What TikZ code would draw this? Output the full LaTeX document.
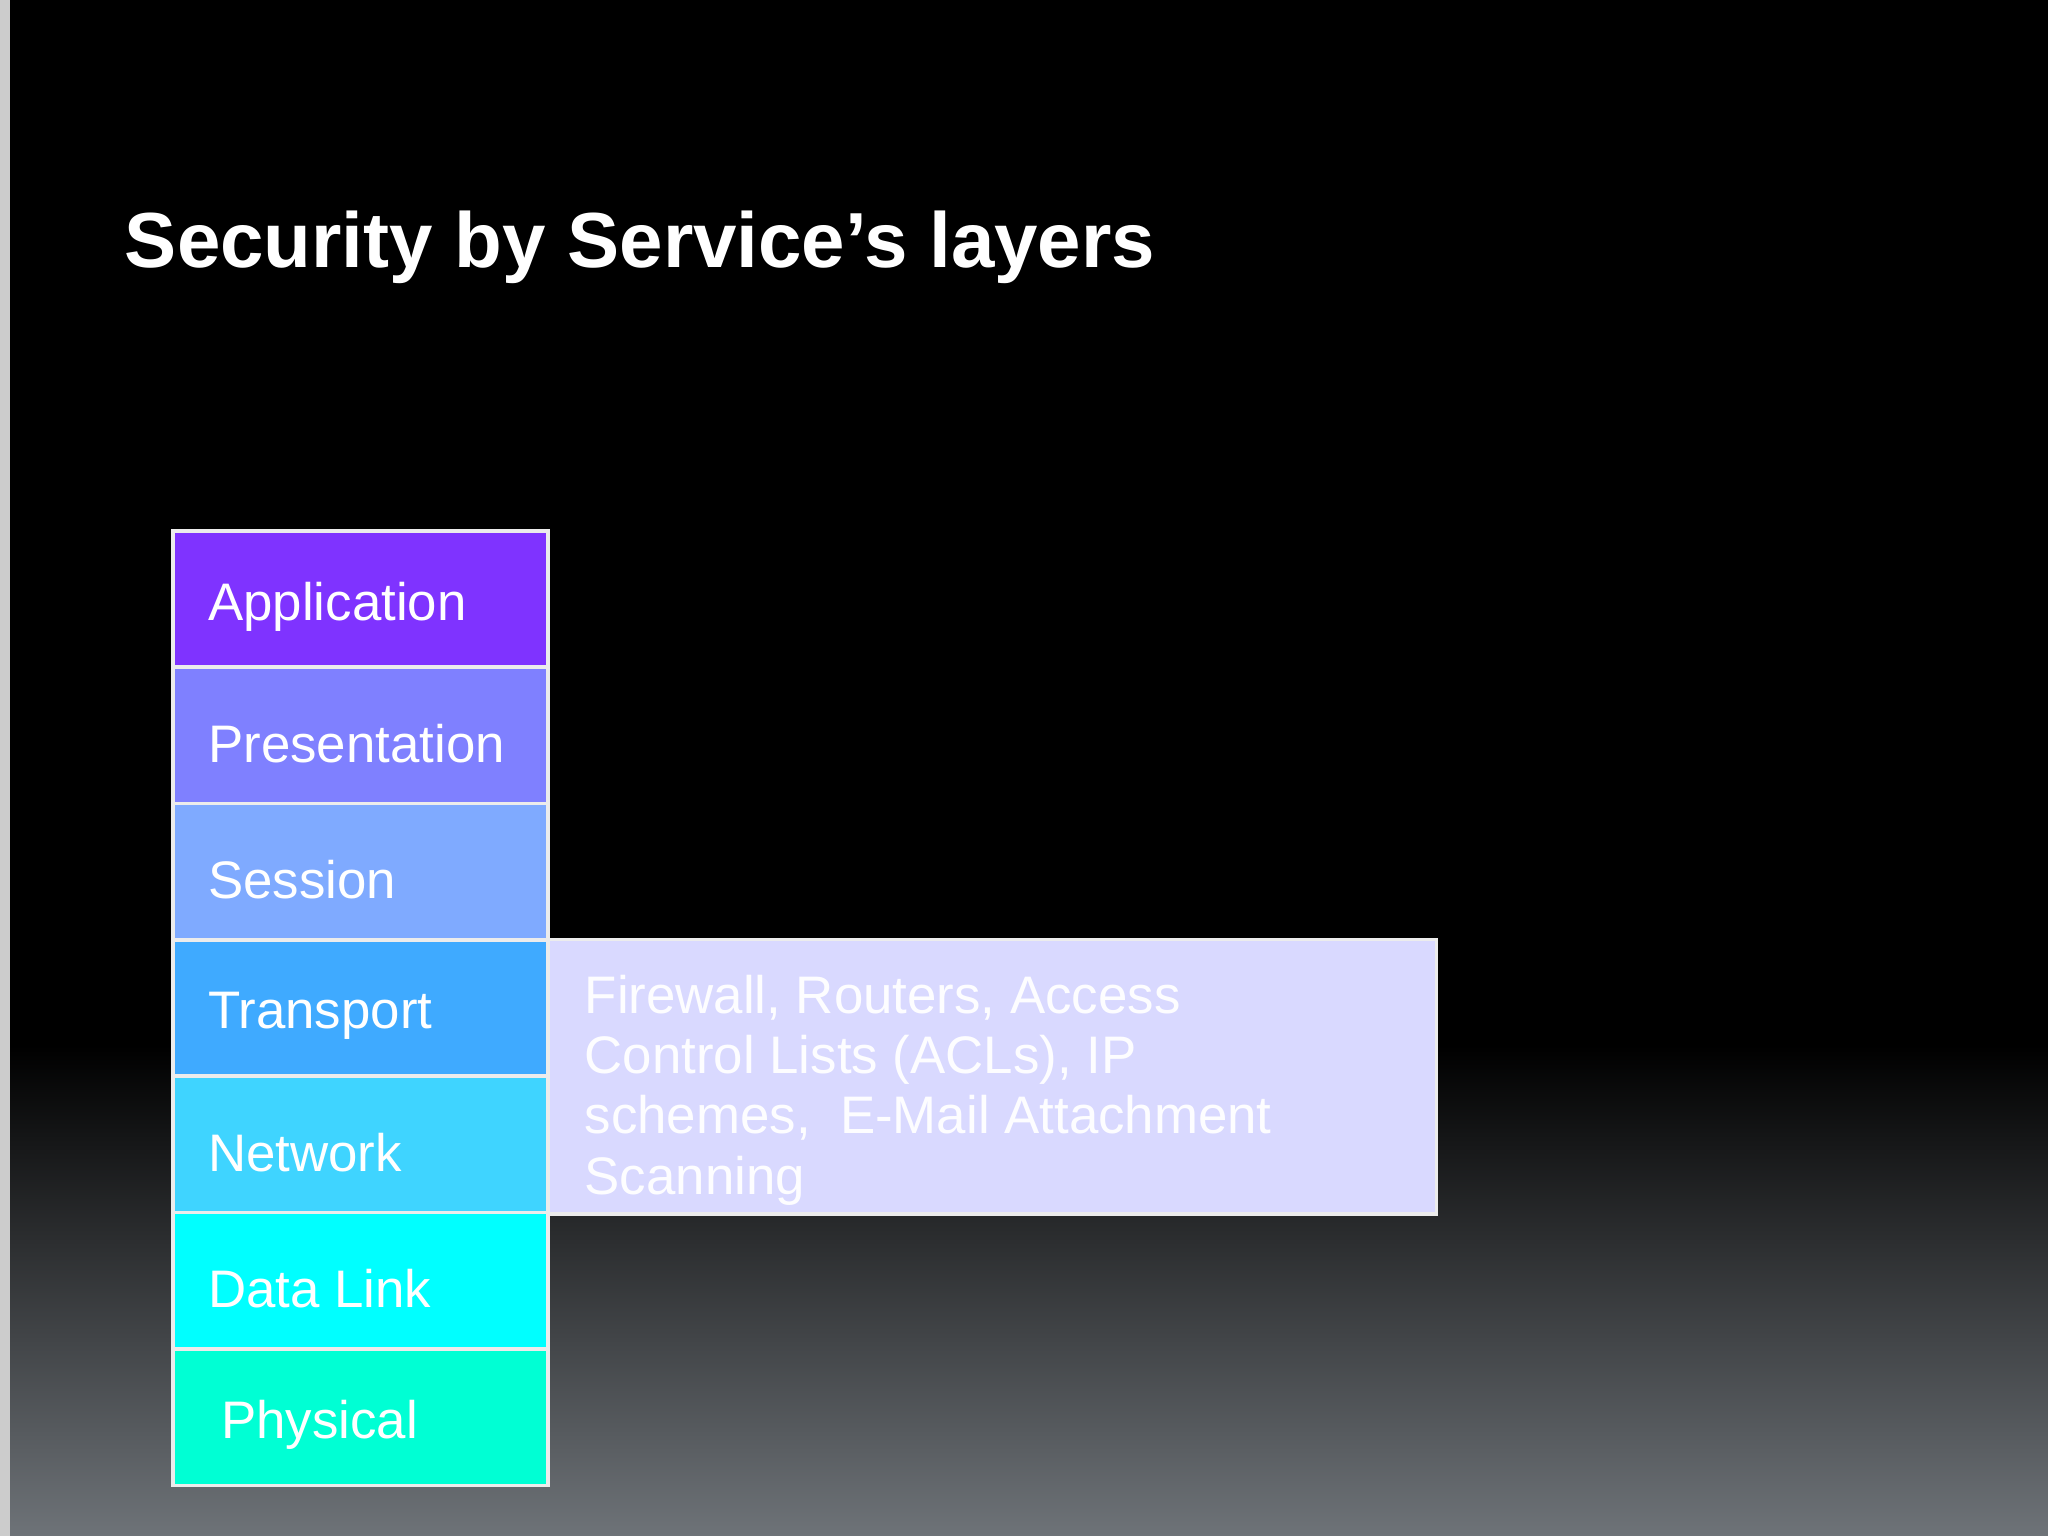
\documentclass[tikz,border=0pt]{standalone}
\usepackage{fontspec}
\setmainfont{Liberation Sans}
\usetikzlibrary{positioning}
\definecolor{app violet}{HTML}{7F33FF}
\definecolor{pres blue}{HTML}{7F80FF}
\definecolor{sess blue}{HTML}{7FAAFF}
\definecolor{trans blue}{HTML}{3FAAFF}
\definecolor{net cyan}{HTML}{3FD4FF}
\definecolor{link cyan}{HTML}{00FFFF}
\definecolor{phys green}{HTML}{00FFD4}
\definecolor{lavender box}{HTML}{D9D9FF}
\definecolor{slide gray}{HTML}{6E7378}
\tikzset{
  layer/.style={draw=white!85!gray, line width=0.8pt, minimum width=2.87cm,
    minimum height=1.044cm, anchor=north west, inner sep=0pt},
  layer label/.style={text=white, font=\fontsize{11.5}{13}\selectfont, anchor=west}
}
\begin{document}
\begin{tikzpicture}[x=0.01cm,y=-0.01cm]
  % background
  \useasboundingbox (0,0) rectangle (1568,1176);
  \fill[black] (0,0) rectangle (1568,800);
  \shade[top color=black, bottom color=slide gray] (0,800) rectangle (1568,1176);
  \fill[gray!40] (0,0) rectangle (8,1176);
  % title
  \node[anchor=base west, text=white, font=\bfseries\fontsize{17}{20}\selectfont, inner sep=0pt]
    (title) at (95,205) {Security by Service’s layers};
  % layer stack
  \foreach \name/\col/\lab/\dx [count=\i from 0] in
    {app/app violet/Application/16, pres/pres blue/Presentation/16,
     sess/sess blue/Session/16, trans/trans blue/Transport/16,
     net/net cyan/Network/16, link/link cyan/Data Link/16,
     phys/phys green/Physical/26} {
    \node[layer, fill=\col] (\name) at (131,405+104.4*\i) {};
    \node[layer label] (\name-lab) at ([xshift=\dx*0.01cm, yshift=-0.06cm]\name.west) {\lab};
  }
  % security box
  \node[draw=white!85!gray, line width=0.8pt, fill=lavender box, minimum width=6.8cm,
    minimum height=2.1cm, anchor=north west, inner sep=0pt] (sec) at (418,718) {};
  \node[anchor=north west, text=white!96!lavender box, align=left, inner sep=0pt,
    font=\fontsize{11.5}{13.1}\selectfont] (sec-lab) at (447,746)
    {Firewall, Routers, Access\\Control Lists (ACLs), IP\\schemes,\ \ E-Mail Attachment\\Scanning};
\end{tikzpicture}
\end{document}
